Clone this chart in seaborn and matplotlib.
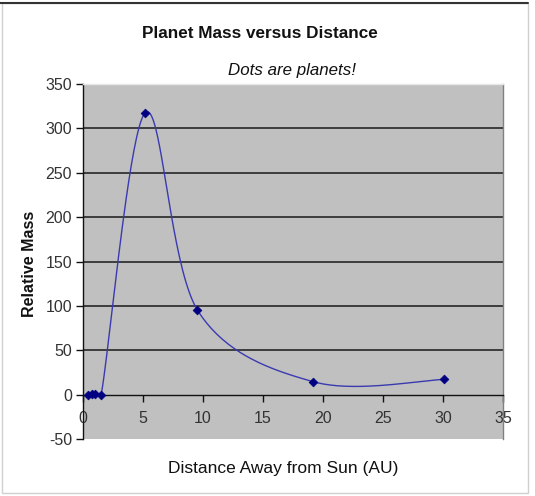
import matplotlib
matplotlib.use("Agg")
import matplotlib.pyplot as plt
import numpy as np
import pandas as pd
import seaborn as sns
from matplotlib.patches import Rectangle
from matplotlib.lines import Line2D

# ── data ──────────────────────────────────────────────────────────────────────
planets  = ["Mercury", "Venus", "Earth", "Mars", "Jupiter", "Saturn", "Uranus", "Neptune"]
distance = [0.39, 0.72, 1.0, 1.52, 5.2, 9.54, 19.2, 30.06]
mass     = [0.06, 0.82, 1.0, 0.11, 317.8, 95.2, 14.5, 17.1]

x_ticks = [0, 5, 10, 15, 20, 25, 30, 35]
y_ticks = [-50, 0, 50, 100, 150, 200, 250, 300, 350]

TITLE    = "Planet Mass versus Distance"
SUBTITLE = "Dots are planets!"
XLABEL   = "Distance Away from Sun (AU)"
YLABEL   = "Relative Mass"

# axes box in pixels (left, bottom, width, height) on a 535x496 canvas
AX_PX = (83, 57, 420, 355)


# ── helpers ───────────────────────────────────────────────────────────────────

def smooth_curve(xs, ys, sx, sy, n=40):
    """Excel-style smoothed line: Bezier segments with Catmull-Rom controls,
    control arms capped at half the segment length (in screen space)."""
    p = np.column_stack([np.asarray(xs) * sx, np.asarray(ys) * sy]).astype(float)
    p = np.vstack([p[0], p, p[-1]])
    out = []
    t = np.linspace(0, 1, n)[:, None]
    for i in range(1, len(p) - 2):
        p0, p3 = p[i], p[i + 1]
        seg_len = np.linalg.norm(p3 - p0)
        d1 = (p[i + 1] - p[i - 1]) / 6
        d2 = (p[i + 2] - p[i]) / 6
        for d in (d1, d2):
            L = np.linalg.norm(d)
            if L > seg_len / 2 and L > 0:
                d *= (seg_len / 2) / L
        c1, c2 = p0 + d1, p3 - d2
        seg = ((1 - t) ** 3) * p0 + 3 * ((1 - t) ** 2) * t * c1 \
            + 3 * (1 - t) * t ** 2 * c2 + t ** 3 * p3
        out.append(seg if i == 1 else seg[1:])
    out = np.vstack(out)
    return out[:, 0] / sx, out[:, 1] / sy


# ── plot ──────────────────────────────────────────────────────────────────────
sns.set_theme(style="white")
plt.rcParams["font.family"] = ["Liberation Sans", "DejaVu Sans"]
plt.rcParams["axes.unicode_minus"] = False

df = pd.DataFrame({"planet": planets, "distance": distance, "mass": mass})
xmin, xmax = x_ticks[0], x_ticks[-1]
ymin, ymax = y_ticks[0], y_ticks[-1]
cx, cy = smooth_curve(df["distance"], df["mass"],
                      AX_PX[2] / (xmax - xmin), AX_PX[3] / (ymax - ymin))
curve_df = pd.DataFrame({"x": cx, "y": cy})

fig = plt.figure(figsize=(5.35, 4.96), dpi=100)
ax = fig.add_axes([AX_PX[0] / 535, AX_PX[1] / 496, AX_PX[2] / 535, AX_PX[3] / 496])
ax.set_facecolor("#c0c0c0")

# horizontal gridlines (interior only)
for yv in y_ticks[2:-1]:
    ax.axhline(yv, color="#1a1a1a", lw=1.1, zorder=1)

sns.lineplot(data=curve_df, x="x", y="y", sort=False, estimator=None,
             color="#3a3ab0", lw=1.0, ax=ax, zorder=3)
sns.scatterplot(data=df, x="distance", y="mass", marker="D", s=20,
                color="#000080", edgecolor="#000080", linewidth=0.5,
                ax=ax, zorder=4)

ax.set_xlim(xmin, xmax)
ax.set_ylim(ymin, ymax)
ax.set_xticks(x_ticks)
ax.set_yticks(y_ticks)
ax.set_xlabel("")
ax.set_ylabel("")

ax.spines["bottom"].set_position(("data", 0))
ax.spines["bottom"].set_color("#111111")
ax.spines["left"].set_color("#111111")
ax.spines["top"].set_color("#e6e6e6")
ax.spines["right"].set_color("#808080")
for s in ax.spines.values():
    s.set_linewidth(1.0)

ax.tick_params(axis="both", direction="out", length=5, width=1.0,
               color="#111111", labelsize=11.5, labelcolor="#333333",
               bottom=True, left=True, pad=3)
ax.tick_params(axis="x", pad=7)

# titles and labels
fig.text(260 / 535, 1 - 33 / 496, TITLE, ha="center", va="center",
         fontsize=12.3, fontweight="bold", color="#111111")
fig.text(292 / 535, 1 - 70 / 496, SUBTITLE, ha="center", va="center",
         fontsize=12.2, fontstyle="italic", color="#111111")
fig.text(283 / 535, 1 - 468 / 496, XLABEL, ha="center", va="center",
         fontsize=12.5, color="#111111")
fig.text(30 / 535, 1 - 264 / 496, YLABEL, ha="center", va="center",
         rotation=90, fontsize=11.5, fontweight="bold", color="#111111")

# frame around the chart
fig.patches.append(Rectangle((2 / 535, 3 / 496), 526 / 535, 490 / 496,
                             transform=fig.transFigure, fill=False,
                             edgecolor="#d0d0d0", lw=1.0))
fig.lines.append(Line2D([0, 528 / 535], [1 - 3 / 496, 1 - 3 / 496],
                        transform=fig.transFigure, color="#333333", lw=1.5))

fig.savefig("out.png", dpi=100)
plt.close(fig)
